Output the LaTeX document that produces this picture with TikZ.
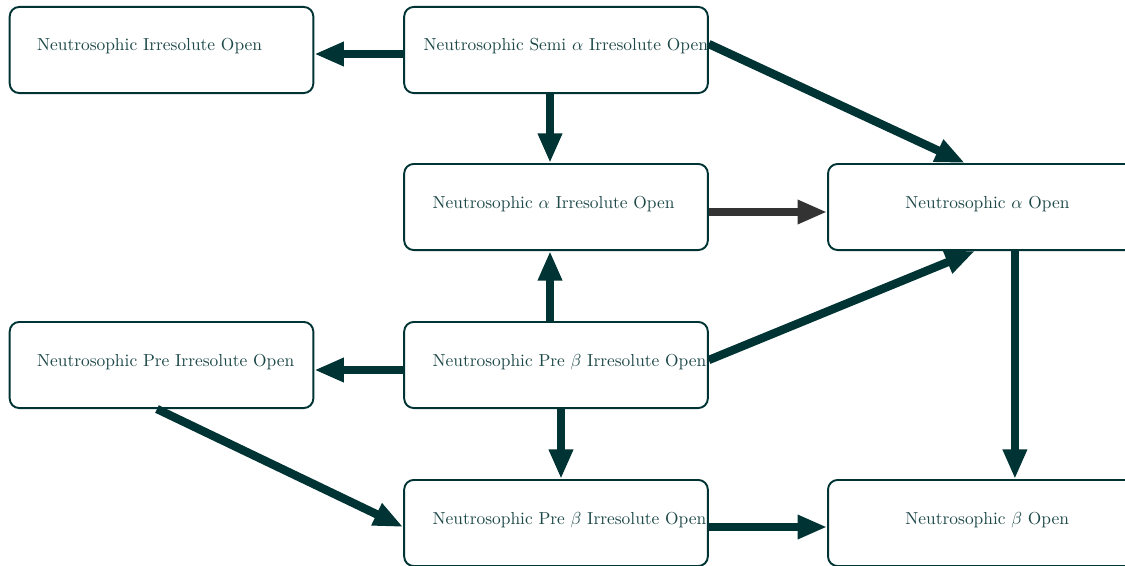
\documentclass[tikz,border=0pt]{standalone}
\usetikzlibrary{arrows.meta,calc}
\definecolor{teal1}{RGB}{0,51,51}
\definecolor{tealtxt}{RGB}{30,72,72}
\definecolor{gray1}{RGB}{51,51,51}
\begin{document}
\begin{tikzpicture}[x=0.575pt,y=-0.575pt,
  box/.style={draw=teal1,line width=1.1pt,rounded corners=5.5pt,rectangle,minimum width=174.6pt,minimum height=49.5pt,inner sep=0pt,fill=white},
  widebox/.style={box,minimum width=185pt},
  lbl/.style={text=tealtxt,inner sep=0pt,anchor=west,font=\normalsize},
  arr/.style={draw=teal1,line width=4.8pt,-{Triangle[length=17pt,width=13pt]}},
  garr/.style={draw=gray1,line width=4.8pt,-{Triangle[length=17pt,width=13pt]}}]
\useasboundingbox (0,0) rectangle (1125,565);
\node[box] (a) at (161.5,50) {};
\node[box] (b) at (556,50) {};
\node[box] (c) at (556,207) {};
\node[widebox] (d) at (988.9,207) {};
\node[box] (e) at (161.5,365) {};
\node[box] (f) at (556,365) {};
\node[box] (g) at (556,523) {};
\node[widebox] (h) at (988.9,523) {};
\node[lbl] (ta) at ($(a.west)+(28,-4)$) {Neutrosophic Irresolute Open};
\node[lbl] (tb) at ($(b.west)+(20,-4)$) {Neutrosophic Semi $\alpha$ Irresolute Open};
\node[lbl] (tc) at ($(c.west)+(29,-3)$) {Neutrosophic $\alpha$ Irresolute Open};
\node[lbl] (td) at ($(d.west)+(78,-3)$) {Neutrosophic $\alpha$ Open};
\node[lbl] (te) at ($(e.west)+(28,-3)$) {Neutrosophic Pre Irresolute Open};
\node[lbl] (tf) at ($(f.west)+(29,-3)$) {Neutrosophic Pre $\beta$ Irresolute Open};
\node[lbl] (tg) at ($(g.west)+(29,-3)$) {Neutrosophic Pre $\beta$ Irresolute Open};
\node[lbl] (th) at ($(h.west)+(78,-3)$) {Neutrosophic $\beta$ Open};
\draw[arr] ($(b.west)+(0,4)$) -- ($(a.east)+(0,4)$);
\draw[arr] ($(b.south)+(-6,0)$) -- ($(c.north)+(-6,0)$);
\draw[arr] ($(b.east)+(0,-6)$) -- ($(d.north)+(-24,0)$);
\draw[garr] ($(c.east)+(0,5)$) -- ($(d.west)+(0,5)$);
\draw[arr] ($(f.north)+(-6,0)$) -- ($(c.south)+(-6,0)$);
\draw[arr] ($(f.east)+(0,-5)$) -- ($(d.south)+(-14,0)$);
\draw[arr] ($(f.west)+(0,5)$) -- ($(e.east)+(0,5)$);
\draw[arr] ($(d.south)+(26,0)$) -- ($(h.north)+(26,0)$);
\draw[arr] ($(f.south)+(5,0)$) -- ($(g.north)+(5,0)$);
\draw[arr] ($(e.south)+(-4.5,0)$) -- ($(g.west)+(0,4)$);
\draw[arr] ($(g.east)+(0,4)$) -- ($(h.west)+(0,4)$);
\end{tikzpicture}
\end{document}
